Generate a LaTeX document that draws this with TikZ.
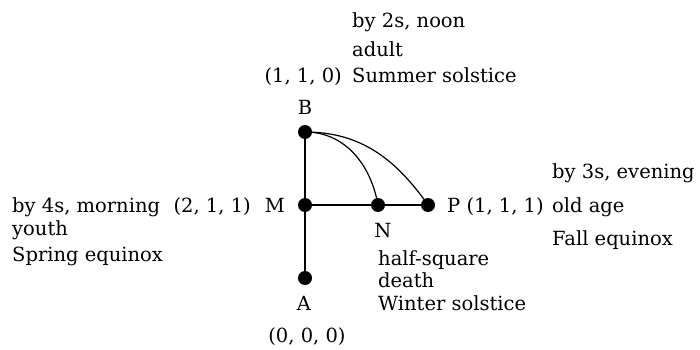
\documentclass[tikz,border=0pt]{standalone}
\usepackage{fontspec}
\setmainfont{DejaVu Serif}
\begin{document}
\begin{tikzpicture}[x=1pt,y=-1pt,
  dot/.style={circle,fill=black,inner sep=0pt,minimum size=14pt},
  lbl/.style={inner sep=0pt,font=\fontsize{19.5}{23}\selectfont},
  edge/.style={line width=1.5pt},
  arcline/.style={line width=1.2pt}]
\useasboundingbox (0,0) rectangle (700,350);
% dots
\node[dot] (B) at (305,132) {};
\node[dot] (M) at (305,205) {};
\node[dot] (N) at (378,205) {};
\node[dot] (P) at (428,205) {};
\node[dot] (A) at (305,278) {};
% connectors
\draw[edge] (B) -- (M);
\draw[edge] (M) -- (A);
\draw[edge] (M) -- (N);
\draw[edge] (N) -- (P);
\draw[arcline] (B.center) to[out=0,in=100] (N.center);
\draw[arcline] (B.center) to[out=0,in=125] (P.center);
% labels
\node[lbl,anchor=base] (lB) at (305,114) {B};
\node[lbl,anchor=base east] (lM) at (285,212) {M};
\node[lbl,anchor=base east] (cM) at (251,212) {(2, 1, 1)};
\node[lbl,anchor=base] (lN) at (383,237) {N};
\node[lbl,anchor=base west] (lP) at (447,212) {P (1, 1, 1)};
\node[lbl,anchor=base] (lA) at (304,310) {A};
\node[lbl,anchor=base] (cA) at (307,342) {(0, 0, 0)};
\node[lbl,anchor=base east] (cB) at (342,83) {(1, 1, 0)};
% top block
\node[lbl,anchor=base west] (t1) at (352,28) {by 2s, noon};
\node[lbl,anchor=base west] (t2) at (352,57) {adult};
\node[lbl,anchor=base west] (t3) at (352,83) {Summer solstice};
% left block
\node[lbl,anchor=base west] (l1) at (12,212) {by 4s, morning};
\node[lbl,anchor=base west] (l2) at (12,235) {youth};
\node[lbl,anchor=base west] (l3) at (12,261) {Spring equinox};
% right block
\node[lbl,anchor=base west] (r1) at (552,178) {by 3s, evening};
\node[lbl,anchor=base west] (r2) at (552,212) {old age};
\node[lbl,anchor=base west] (r3) at (552,245) {Fall equinox};
% bottom block
\node[lbl,anchor=base west] (b1) at (378,265) {half-square};
\node[lbl,anchor=base west] (b2) at (378,287) {death};
\node[lbl,anchor=base west] (b3) at (378,310) {Winter solstice};
\end{tikzpicture}
\end{document}
